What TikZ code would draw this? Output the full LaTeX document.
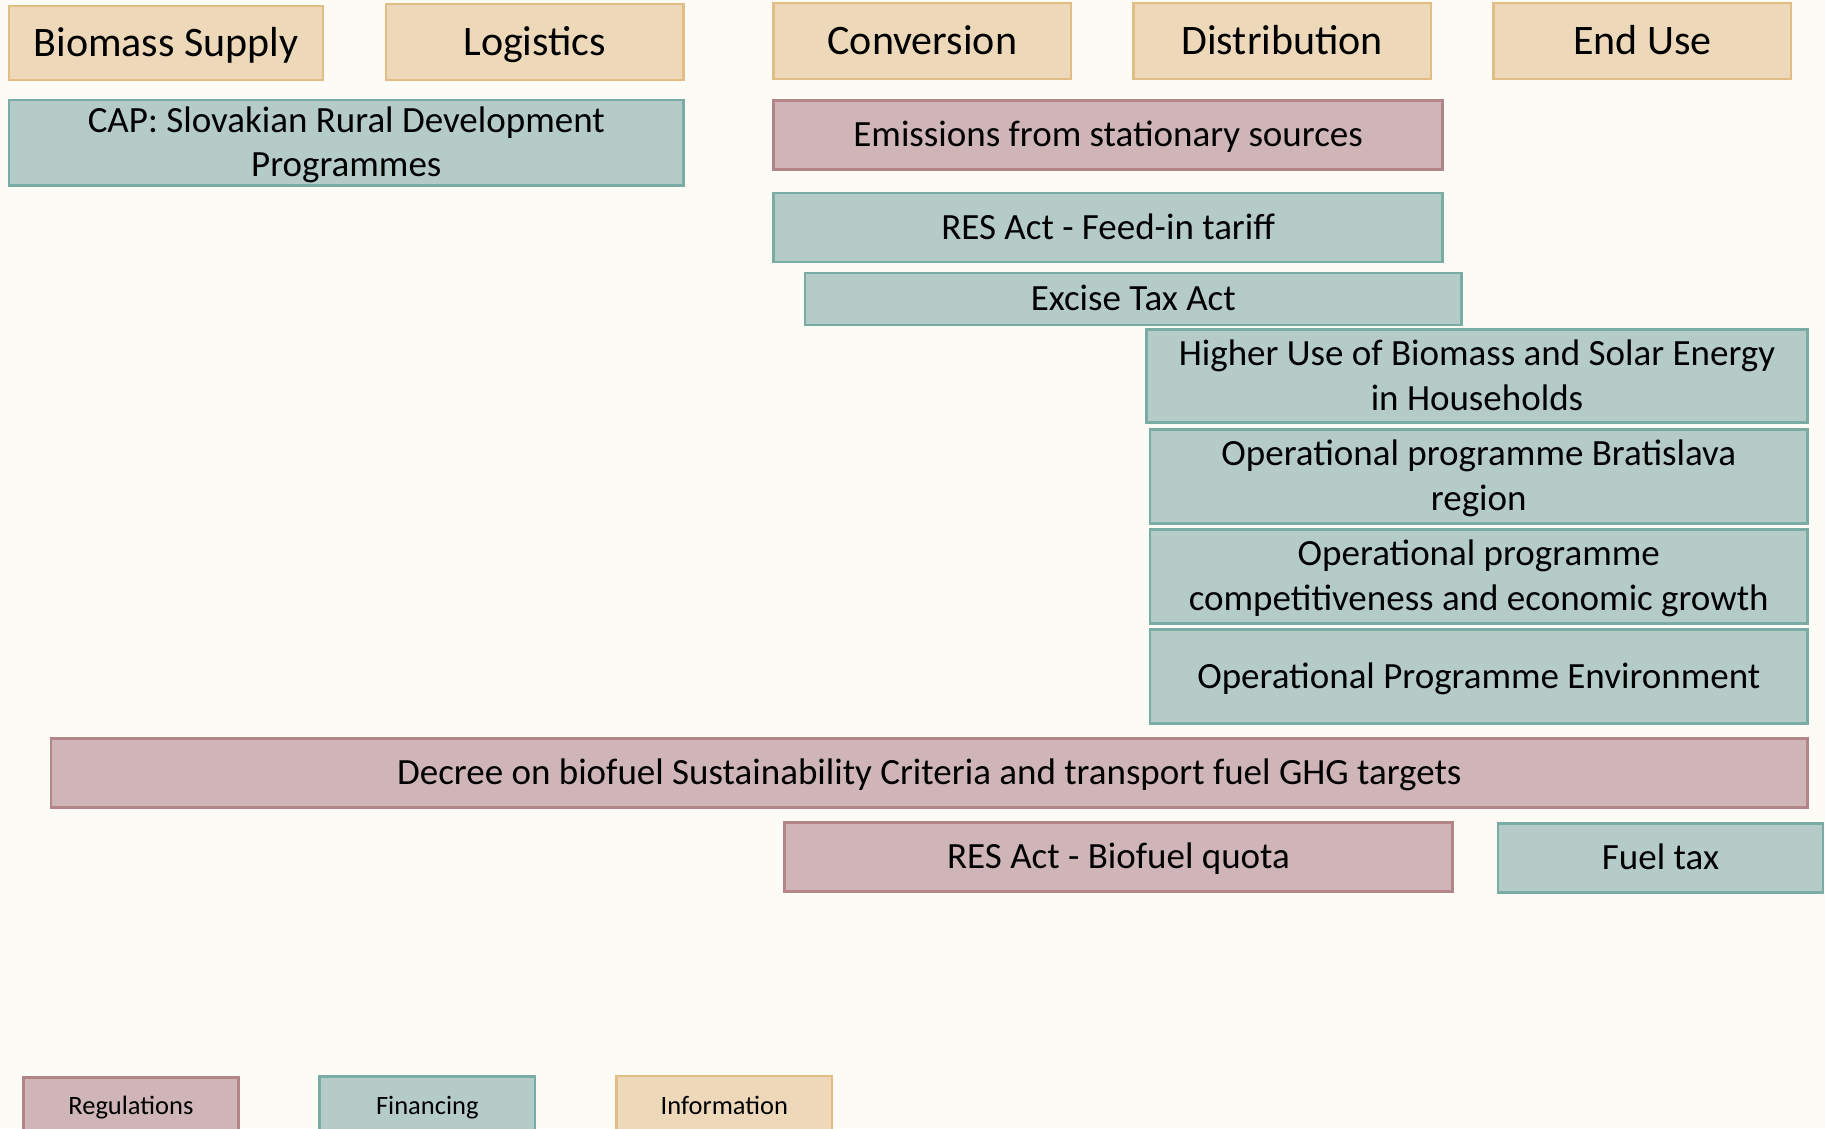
\documentclass[tikz,border=0pt]{standalone}
\usepackage{fontspec}
\setmainfont{Carlito}
\definecolor{bgcol}{HTML}{FCFBF6}
\definecolor{infofill}{HTML}{EDD9BA}
\definecolor{infoline}{HTML}{E2BE85}
\definecolor{regfill}{HTML}{CFB5B7}
\definecolor{regline}{HTML}{B48588}
\definecolor{finfill}{HTML}{B5CBC8}
\definecolor{finline}{HTML}{7BABA5}
\begin{document}
\begin{tikzpicture}[x=1pt,y=-1pt,
  box/.style={rectangle, line width=2.5pt, inner sep=0pt},
  info/.style={box, fill=infofill, draw=infoline},
  reg/.style={box, fill=regfill, draw=regline},
  fin/.style={box, fill=finfill, draw=finline},
  txt/.style={font=\fontsize{37}{44}\selectfont, text height=23.4pt, text depth=0pt, inner sep=0pt},
  htxt/.style={font=\fontsize{42}{50}\selectfont, text height=26.5pt, text depth=0pt, inner sep=0pt},
  ltxt/.style={font=\fontsize{26.5}{32}\selectfont, inner sep=0pt, anchor=base}
]
\useasboundingbox (0,0) rectangle (1825,1128);
\clip (0,0) rectangle (1825,1128);
\fill[bgcol] (0,0) rectangle (1825,1128);

% header stages
\node[info, htxt, minimum width=314pt, minimum height=74pt] (bs) at (166,43) {Biomass Supply};
\node[info, htxt, minimum width=297.5pt, minimum height=76pt] (lg) at (534.75,42) {Logistics};
\node[info, htxt, minimum width=297.4pt, minimum height=76pt] (cv) at (922.3,41) {Conversion};
\node[info, htxt, minimum width=297.4pt, minimum height=76pt] (ds) at (1282.3,41) {Distribution};
\node[info, htxt, minimum width=297.3pt, minimum height=76pt] (eu) at (1642.35,41) {End Use};

% CAP
\node[fin, minimum width=674.5pt, minimum height=85.6pt] (cap) at (346.25,142.8) {};
\node[txt, anchor=base] (capA) at (346.25,132.2) {CAP: Slovakian Rural Development};
\node[txt, anchor=base] (capB) at (346.25,176.8) {Programmes};

% conversion-level
\node[reg, txt, minimum width=669.1pt, minimum height=68.6pt] (em) at (1108.15,135) {Emissions from stationary sources};
\node[fin, txt, minimum width=669.1pt, minimum height=69pt] (fit) at (1108.15,227.5) {RES Act - Feed-in tariff};
\node[fin, txt, minimum width=656.9pt, minimum height=52pt] (ex) at (1133.25,299) {Excise Tax Act};

% distribution / end use programmes
\node[fin, minimum width=661pt, minimum height=93.4pt] (hu) at (1477,376) {};
\node[txt, anchor=base] (huA) at (1477,365.4) {Higher Use of Biomass and Solar Energy};
\node[txt, anchor=base] (huB) at (1477,410.0) {in Households};

\node[fin, minimum width=657.5pt, minimum height=94pt] (ob) at (1478.75,476.3) {};
\node[txt, anchor=base] (obA) at (1478.75,465.7) {Operational programme Bratislava};
\node[txt, anchor=base] (obB) at (1478.75,510.3) {region};

\node[fin, minimum width=657.5pt, minimum height=94pt] (oc) at (1478.75,576.3) {};
\node[txt, anchor=base] (ocA) at (1478.75,565.7) {Operational programme};
\node[txt, anchor=base] (ocB) at (1478.75,610.3) {competitiveness and economic growth};

\node[fin, txt, minimum width=657.5pt, minimum height=94pt] (oe) at (1478.75,676.3) {Operational Programme Environment};

% transport fuels
\node[reg, txt, minimum width=1756.3pt, minimum height=69pt] (dec) at (929.35,772.8) {Decree on biofuel Sustainability Criteria and transport fuel GHG targets};
\node[reg, txt, minimum width=668.1pt, minimum height=69.4pt] (rbq) at (1118.55,857) {RES Act - Biofuel quota};
\node[fin, txt, minimum width=325pt, minimum height=69.4pt] (ft) at (1660.5,858) {Fuel tax};

% legend
\node[reg, minimum width=215.2pt, minimum height=72.7pt] (lr) at (130.9,1113.6) {};
\node[ltxt] (lrt) at (130.9,1114) {Regulations};
\node[fin, minimum width=215.8pt, minimum height=73.7pt] (lf) at (427.3,1113.2) {};
\node[ltxt] (lft) at (427.3,1114) {Financing};
\node[info, minimum width=215.4pt, minimum height=74pt] (li) at (724.3,1113) {};
\node[ltxt] (lit) at (724.3,1114) {Information};
\end{tikzpicture}
\end{document}
